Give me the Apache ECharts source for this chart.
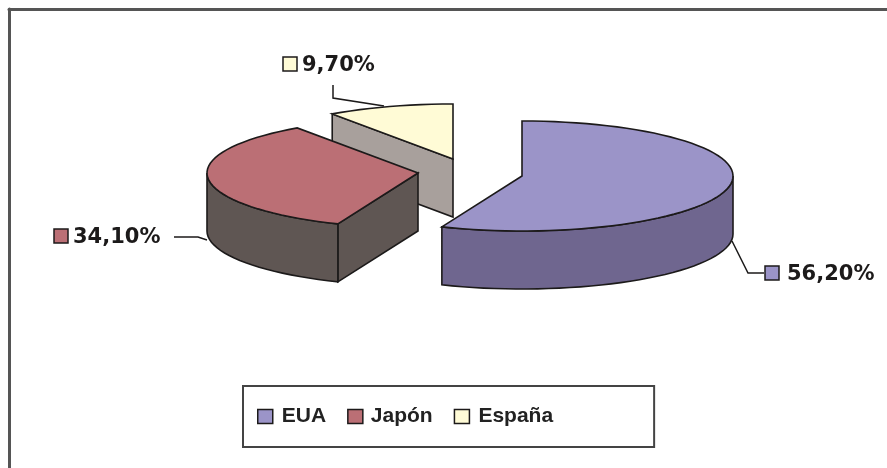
<!DOCTYPE html>
<html>
<head>
<meta charset="utf-8">
<style>
  html, body { margin: 0; padding: 0; background: #fff; }
  #main { width: 887px; height: 468px; }
</style>
<script src="https://cdn.jsdelivr.net/npm/echarts@6/dist/echarts.min.js"></script>
</head>
<body>
<div id="main"></div>
<script>
var categories = ['EUA', 'Japón', 'España']
var shares = [56.2, 34.1, 9.7]

// colores: cara superior y cara lateral
var topColors = ['#9b94c8', '#bb6f75', '#fffbd6']
var sideColors = ['#6f668f', '#5f5653', '#a8a09c']

// vertice de cada porcion (ya separada), en valores de los ejes
var apexX = [522, 418, 453]
var apexY = [176, 173, 159]
var radiusX = 211
var radiusY = 55
var depth = 58

// caja y texto de cada etiqueta, y su linea guia
var labelBoxes = [[765, 266], [54, 229], [283, 57]]
var labelTextX = [787, 73, 302]
var leaders = [
  [[732, 241], [748, 273], [764, 273]],
  [[174, 237], [198, 237], [207, 240]],
  [[333, 85], [333, 98], [384, 106]]
]

var edge = '#1c1a1a'

function rim (cx, cy, a0, a1) {
  var pts = []
  var steps = Math.max(2, Math.ceil((a1 - a0) / 3))
  for (var i = 0; i <= steps; i++) {
    var a = (a0 + (a1 - a0) * i / steps) * Math.PI / 180
    pts.push([cx + radiusX * Math.sin(a), cy - radiusY * Math.cos(a)])
  }
  return pts
}

function sliceRenderer (idx, a0, a1) {
  return function (params, api) {
    var cx = api.value(0)
    var cy = api.value(1)
    var toPx = function (p) { return api.coord(p) }
    var face = function (pts, fill) {
      return {
        type: 'polygon',
        shape: { points: pts.map(toPx) },
        style: { fill: fill, stroke: edge, lineWidth: 1.6 }
      }
    }
    var children = []
    var sideFill = sideColors[idx]
    var cutFace = function (a) {
      var p = rim(cx, cy, a, a + 0.001)[0]
      return face([[cx, cy], p, [p[0], p[1] + depth], [cx, cy + depth]], sideFill)
    }
    // caras de corte que miran al frente
    var startNormal = (a0 - 90 + 360) % 360
    var endNormal = (a1 + 90) % 360
    if (startNormal > 90 && startNormal < 270) children.push(cutFace(a0))
    if (endNormal > 90 && endNormal < 270) children.push(cutFace(a1))
    // borde exterior visible
    var from = Math.max(a0, 90)
    var to = Math.min(a1, 270)
    if (to > from) {
      var upper = rim(cx, cy, from, to)
      var lower = upper.map(function (p) { return [p[0], p[1] + depth] }).reverse()
      children.push(face(upper.concat(lower), sideFill))
    }
    // cara superior
    children.push(face([[cx, cy]].concat(rim(cx, cy, a0, a1)), topColors[idx]))
    // linea guia
    children.push({
      type: 'polyline',
      shape: { points: leaders[idx].map(toPx) },
      style: { fill: null, stroke: edge, lineWidth: 1.5 }
    })
    // etiqueta
    var box = toPx(labelBoxes[idx])
    children.push({
      type: 'rect',
      shape: { x: box[0], y: box[1], width: 14, height: 14 },
      style: { fill: topColors[idx], stroke: edge, lineWidth: 1.5 }
    })
    var txt = toPx([labelTextX[idx], labelBoxes[idx][1] + 8.5])
    children.push({
      type: 'text',
      style: {
        x: txt[0],
        y: txt[1],
        text: api.value(2).toFixed(2).replace('.', ',') + '%',
        font: 'bold 21px "DejaVu Sans"',
        fill: '#1c1a1a',
        textAlign: 'left',
        textVerticalAlign: 'middle'
      }
    })
    return { type: 'group', children: children }
  }
}

var total = shares.reduce(function (s, v) { return s + v }, 0)
var running = 0
// España detras, EUA delante
var series = categories.map(function (name, i) {
  var a0 = running / total * 360
  running += shares[i]
  var a1 = running / total * 360
  return {
    type: 'custom',
    name: name,
    z: 5 - i,
    clip: false,
    silent: true,
    itemStyle: { color: topColors[i] },
    encode: { x: 0, y: 1 },
    data: [[apexX[i], apexY[i], shares[i]]],
    renderItem: sliceRenderer(i, a0, a1)
  }
})

var myChart = echarts.init(document.getElementById('main'), null, { renderer: 'canvas' })
myChart.setOption({
  animation: false,
  backgroundColor: '#ffffff',
  grid: { left: 9, top: 9, width: 878, height: 459 },
  xAxis: {
    type: 'value',
    position: 'top',
    min: 9,
    max: 887,
    axisLine: { show: true, onZero: false, lineStyle: { color: '#555555', width: 3 } },
    axisTick: { show: false },
    axisLabel: { show: false },
    splitLine: { show: false }
  },
  yAxis: {
    type: 'value',
    inverse: true,
    min: 9,
    max: 468,
    axisLine: { show: true, onZero: false, lineStyle: { color: '#555555', width: 3 } },
    axisTick: { show: false },
    axisLabel: { show: false },
    splitLine: { show: false }
  },
  legend: {
    left: 243,
    top: 386,
    orient: 'horizontal',
    data: [
      { name: categories[0], textStyle: { padding: [0, 0, 0, 4] } },
      { name: categories[1], textStyle: { padding: [0, 0, 0, 3] } },
      { name: categories[2], textStyle: { padding: [0, 0, 0, 4] } }
    ],
    icon: 'rect',
    selectedMode: false,
    itemWidth: 15,
    itemHeight: 14,
    itemGap: 21,
    padding: [20, 101, 20, 14],
    borderColor: '#444444',
    borderWidth: 2,
    itemStyle: { borderColor: edge, borderWidth: 1.5 },
    textStyle: {
      fontFamily: 'Liberation Sans',
      fontWeight: 'bold',
      fontSize: 21,
      color: '#222222'
    }
  },
  series: series
})
</script>
</body>
</html>
